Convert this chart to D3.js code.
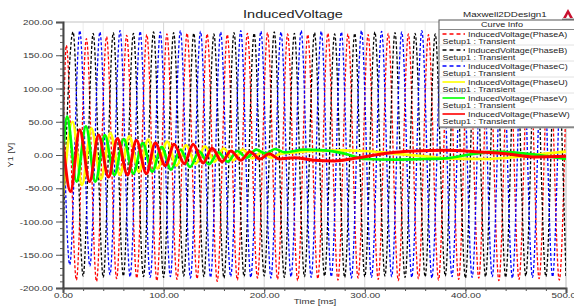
<!DOCTYPE html>
<html lang="en">
<head>
<meta charset="UTF-8">
<title>InducedVoltage</title>
<script src="https://d3js.org/d3.v7.min.js"></script>
<style>
  body { margin: 0; background: #fff; }
  svg { display: block; font-family: "Liberation Sans", Arial, sans-serif; }
</style>
</head>
<body>
<svg width="574" height="306"></svg>
<script>
// ---- data ----
const xTicks = [0, 100, 200, 300, 400, 500];
const yTicks = [-200, -150, -100, -50, 0, 50, 100, 150, 200];

// dashed phases: times (ms) of start, each peak/trough, end
const timesA = [0, 3.3, 13.3, 23.3, 33.3, 43.3, 53.3, 63.3, 73.3, 83.3, 93.3, 103.3, 113.3, 123.3, 133.3, 143.3, 153.3, 163.3, 173.3, 183.3, 193.3, 203.3, 213.3, 223.3, 233.3, 243.3, 253.3, 263.3, 273.3, 283.3, 293.3, 303.3, 313.3, 323.3, 333.3, 343.3, 353.3, 363.3, 373.3, 383.3, 393.3, 403.3, 413.3, 423.3, 433.3, 443.3, 453.3, 463.3, 473.3, 483.3, 493.3, 500];
const valuesA = [0, 165, -188, 175, -190, 178, -186, 180, -185, 181, -189, 182, -187, 183, -186, 182, -190, 181, -188, 183, -185, 184, -187, 182, -189, 181, -186, 183, -188, 182, -185, 181, -187, 183, -189, 182, -186, 181, -188, 183, -187, 182, -185, 181, -189, 183, -187, 182, -186, 181, -188, 90];

const timesB = [0, 10, 20, 30, 40, 50, 60, 70, 80, 90, 100, 110, 120, 130, 140, 150, 160, 170, 180, 190, 200, 210, 220, 230, 240, 250, 260, 270, 280, 290, 300, 310, 320, 330, 340, 350, 360, 370, 380, 390, 400, 410, 420, 430, 440, 450, 460, 470, 480, 490, 500];
const valuesB = [-120, 185, -182, 183, -184, 184, -182, 183, -183, 185, -184, 184, -182, 183, -183, 182, -185, 184, -183, 183, -182, 185, -184, 183, -183, 184, -182, 182, -184, 183, -183, 185, -182, 184, -184, 183, -183, 182, -182, 184, -185, 183, -183, 185, -184, 184, -182, 183, -183, 184, -183];

const timesC = [0, 6.7, 16.7, 26.7, 36.7, 46.7, 56.7, 66.7, 76.7, 86.7, 96.7, 106.7, 116.7, 126.7, 136.7, 146.7, 156.7, 166.7, 176.7, 186.7, 196.7, 206.7, 216.7, 226.7, 236.7, 246.7, 256.7, 266.7, 276.7, 286.7, 296.7, 306.7, 316.7, 326.7, 336.7, 346.7, 356.7, 366.7, 376.7, 386.7, 396.7, 406.7, 416.7, 426.7, 436.7, 446.7, 456.7, 466.7, 476.7, 486.7, 496.7, 500];
const valuesC = [90, -165, 187, -167, 185, -180, 187, -183, 186, -184, 185, -183, 187, -185, 186, -184, 185, -183, 187, -184, 186, -185, 185, -183, 187, -184, 186, -183, 185, -185, 187, -184, 186, -183, 185, -184, 187, -185, 186, -183, 185, -184, 187, -183, 186, -185, 185, -184, 187, -183, 186, 92];

// solid phases: damped oscillation then slow drift
const timesU = [0, 9.5, 18.9, 28.3, 37.7, 47.1, 56.5, 65.9, 75.3, 84.7, 94.1, 103.5, 112.9, 122.3, 131.7, 141.1, 150.5, 159.9, 169.3, 178.7, 188.1, 197.5, 206.9, 216.3, 230, 250, 280, 300, 330, 360, 380, 420, 450, 480, 500];
const valuesU = [-62, 50, -45, 40, -36, 33, -30, 28, -25, 23, -20, 20, -16, 15, -13, 13, -10, 10, -8, 8, -5, 4, -4, 2, 4, 6, 7, 6, 2, -2, -5, -6, -3, 2, 5];

const timesV = [0, 4, 13.4, 22.8, 32.2, 41.6, 51, 60.4, 69.8, 79.2, 88.6, 98, 107.4, 116.8, 126.2, 135.6, 145, 154.4, 163.8, 173.2, 182.6, 192, 201.4, 210.8, 220.2, 240, 260, 280, 300, 330, 360, 380, 410, 430, 460, 500];
const valuesV = [-5, 58, -40, 43, -40, 30, -30, 24, -28, 18, -25, 12, -22, 8, -18, 5, -14, 4, -10, 6, -4, 8, 2, 9, 4, 8, 7, 2, -6, -7, -6, -5, 2, 5, 2, -6];

const timesW = [0, 7.5, 16.5, 26.5, 35.3, 45.3, 54.1, 64.1, 72.9, 82.9, 91.7, 101.7, 110.5, 120.5, 129.3, 139.3, 148.1, 158.1, 166.9, 176.9, 185.7, 195.7, 205, 215, 230, 250, 270, 290, 310, 330, 350, 380, 410, 440, 470, 500];
const valuesW = [20, -55, 38, -40, 30, -33, 25, -30, 22, -28, 18, -16, 16, -13, 16, -12, 10, -10, 6, -8, 5, -6, 2, -6, -4, -8, -9, -5, 0, 4, 6, 7, 5, 2, -3, -2];

const seriesNames = ["PhaseA", "PhaseB", "PhaseC", "PhaseU", "PhaseV", "PhaseW"];
const seriesColors = ["#ff0000", "#000000", "#0000ff", "#ffff00", "#00ff00", "#ff0000"];
const seriesDashed = [true, true, true, false, false, false];
const seriesTimes = [timesA, timesB, timesC, timesU, timesV, timesW];
const seriesValues = [valuesA, valuesB, valuesC, valuesU, valuesV, valuesW];

// ---- layout ----
const svg = d3.select("svg");
const sx = 1.4; // text in the picture is stretched sideways
const x = d3.scaleLinear().domain([0, 500]).range([63, 566]);
const y = d3.scaleLinear().domain([-200, 200]).range([288, 22]);

function stretchText(sel, tx, ty, k = sx) {
  sel.attr("x", null).attr("y", null).attr("dy", null)
     .attr("transform", `translate(${tx},${ty}) scale(${k},1)`);
}

// grid
const grid = svg.append("g");
grid.selectAll("line.vx").data(d3.range(0, 501, 20)).join("line")
  .attr("x1", d => x(d)).attr("x2", d => x(d)).attr("y1", y(200)).attr("y2", y(-200))
  .attr("stroke", d => d % 100 === 0 ? "#d6d6d6" : "#ececec").attr("stroke-width", 1);
grid.selectAll("line.hy").data(yTicks).join("line")
  .attr("x1", x(0)).attr("x2", x(500)).attr("y1", d => y(d)).attr("y2", d => y(d))
  .attr("stroke", "#e4e4e4").attr("stroke-width", 1);
svg.append("rect").attr("x", x(0)).attr("y", y(200)).attr("width", x(500) - x(0)).attr("height", y(-200) - y(200))
  .attr("fill", "none").attr("stroke", "#cfcfcf");

// curves
svg.append("clipPath").attr("id", "plotClip").append("rect")
  .attr("x", x(0)).attr("y", y(200) - 2).attr("width", x(500) - x(0)).attr("height", y(-200) - y(200) + 4);

const line = d3.line().x(d => x(d[0])).y(d => y(d[1])).curve(d3.curveMonotoneX);
const plot = svg.append("g").attr("clip-path", "url(#plotClip)");
seriesNames.forEach((name, i) => {
  const pts = seriesTimes[i].map((t, j) => [t, seriesValues[i][j]]);
  plot.append("path").datum(pts)
    .attr("d", line)
    .attr("fill", "none")
    .attr("stroke", seriesColors[i])
    .attr("stroke-width", seriesDashed[i] ? 1.3 : (name === "PhaseW" ? 3 : 2.7))
    .attr("stroke-dasharray", seriesDashed[i] ? "3,2" : null)
    .attr("stroke-linejoin", "round");
});

// axes
const gY = svg.append("g").attr("transform", `translate(${x(0)},0)`)
  .call(d3.axisLeft(y).tickValues(yTicks).tickSize(7).tickFormat(d => d.toFixed(2)));
gY.select(".domain").attr("stroke", "#444").attr("stroke-width", 2);
gY.selectAll(".tick line").attr("stroke", "#555");
gY.selectAll(".tick text").attr("fill", "#333").style("font-size", "7px")
  .each(function () { stretchText(d3.select(this), -10, 2.5); });
svg.append("g").attr("transform", `translate(${x(0)},0)`)
  .call(d3.axisLeft(y).tickValues(d3.range(-200, 201, 10)).tickSize(3).tickFormat(""))
  .call(g => g.select(".domain").remove())
  .selectAll("line").attr("stroke", "#555");

const gX = svg.append("g").attr("transform", `translate(0,${y(-200)})`)
  .call(d3.axisBottom(x).tickValues(xTicks).tickSize(5).tickFormat(d => d.toFixed(2)));
gX.select(".domain").attr("stroke", "#444").attr("stroke-width", 2);
gX.selectAll(".tick line").attr("stroke", "#555");
gX.selectAll(".tick text").attr("fill", "#333").style("font-size", "7px")
  .each(function () { stretchText(d3.select(this), 0, 9.5); });
svg.append("g").attr("transform", `translate(0,${y(-200)})`)
  .call(d3.axisBottom(x).tickValues(d3.range(0, 501, 20)).tickSize(3).tickFormat(""))
  .call(g => g.select(".domain").remove())
  .selectAll("line").attr("stroke", "#555");

// titles
svg.append("text").text("InducedVoltage").attr("text-anchor", "middle")
  .attr("fill", "#222").style("font-size", "10px")
  .call(s => stretchText(s, 293, 18.3, 1.45));
svg.append("text").text("Maxwell2DDesign1").attr("text-anchor", "start")
  .attr("fill", "#222").style("font-size", "7px")
  .call(s => stretchText(s, 463, 17.3));
svg.append("text").text("Time [ms]").attr("text-anchor", "middle")
  .attr("fill", "#333").style("font-size", "7px")
  .call(s => stretchText(s, 315, 304));
svg.append("text").text("Y1 [V]").attr("text-anchor", "middle")
  .attr("fill", "#333").style("font-size", "7px")
  .attr("transform", "translate(13,155) rotate(-90) scale(1.3,1)");

// small logo
const logo = svg.append("g").attr("transform", "translate(563,8)");
logo.append("path").attr("d", "M0,10 L5,1 L10,10 Z").attr("fill", "#c8102e");
logo.append("path").attr("d", "M3,10 L5,6 L7,10 Z").attr("fill", "#fff");
logo.append("rect").attr("x", -1).attr("y", 10.5).attr("width", 12).attr("height", 1.5).attr("fill", "#888");

// legend
const lg = svg.append("g").attr("transform", "translate(439,20)");
lg.append("rect").attr("x", 1.5).attr("y", 1.5).attr("width", 140).attr("height", 107).attr("fill", "#bbb");
lg.append("rect").attr("x", 0).attr("y", 0).attr("width", 140).attr("height", 107)
  .attr("fill", "#fff").attr("stroke", "#555").attr("stroke-width", 1);
lg.append("text").text("Curve Info").attr("text-anchor", "middle").attr("fill", "#222")
  .style("font-size", "6.5px").call(s => stretchText(s, 63, 7.3));
lg.append("line").attr("x1", 0).attr("x2", 140).attr("y1", 9.5).attr("y2", 9.5).attr("stroke", "#888");
seriesNames.forEach((name, i) => {
  const oy = 14 + i * 16;
  if (i > 0) lg.append("line").attr("x1", 0).attr("x2", 140).attr("y1", oy - 5).attr("y2", oy - 5).attr("stroke", "#e2e2e2");
  lg.append("line").attr("x1", 3.5).attr("x2", 26).attr("y1", oy).attr("y2", oy)
    .attr("stroke", seriesColors[i]).attr("stroke-width", seriesDashed[i] ? 1.3 : 1.6)
    .attr("stroke-dasharray", seriesDashed[i] ? "4,3" : null);
  lg.append("text").text(`InducedVoltage(${name})`).attr("fill", "#222").style("font-size", "6.5px")
    .call(s => stretchText(s, 29, oy + 2.5, 1.38));
  lg.append("text").text("Setup1 : Transient").attr("fill", "#222").style("font-size", "6.5px")
    .call(s => stretchText(s, 3.5, oy + 9.5, 1.38));
});
</script>
</body>
</html>
